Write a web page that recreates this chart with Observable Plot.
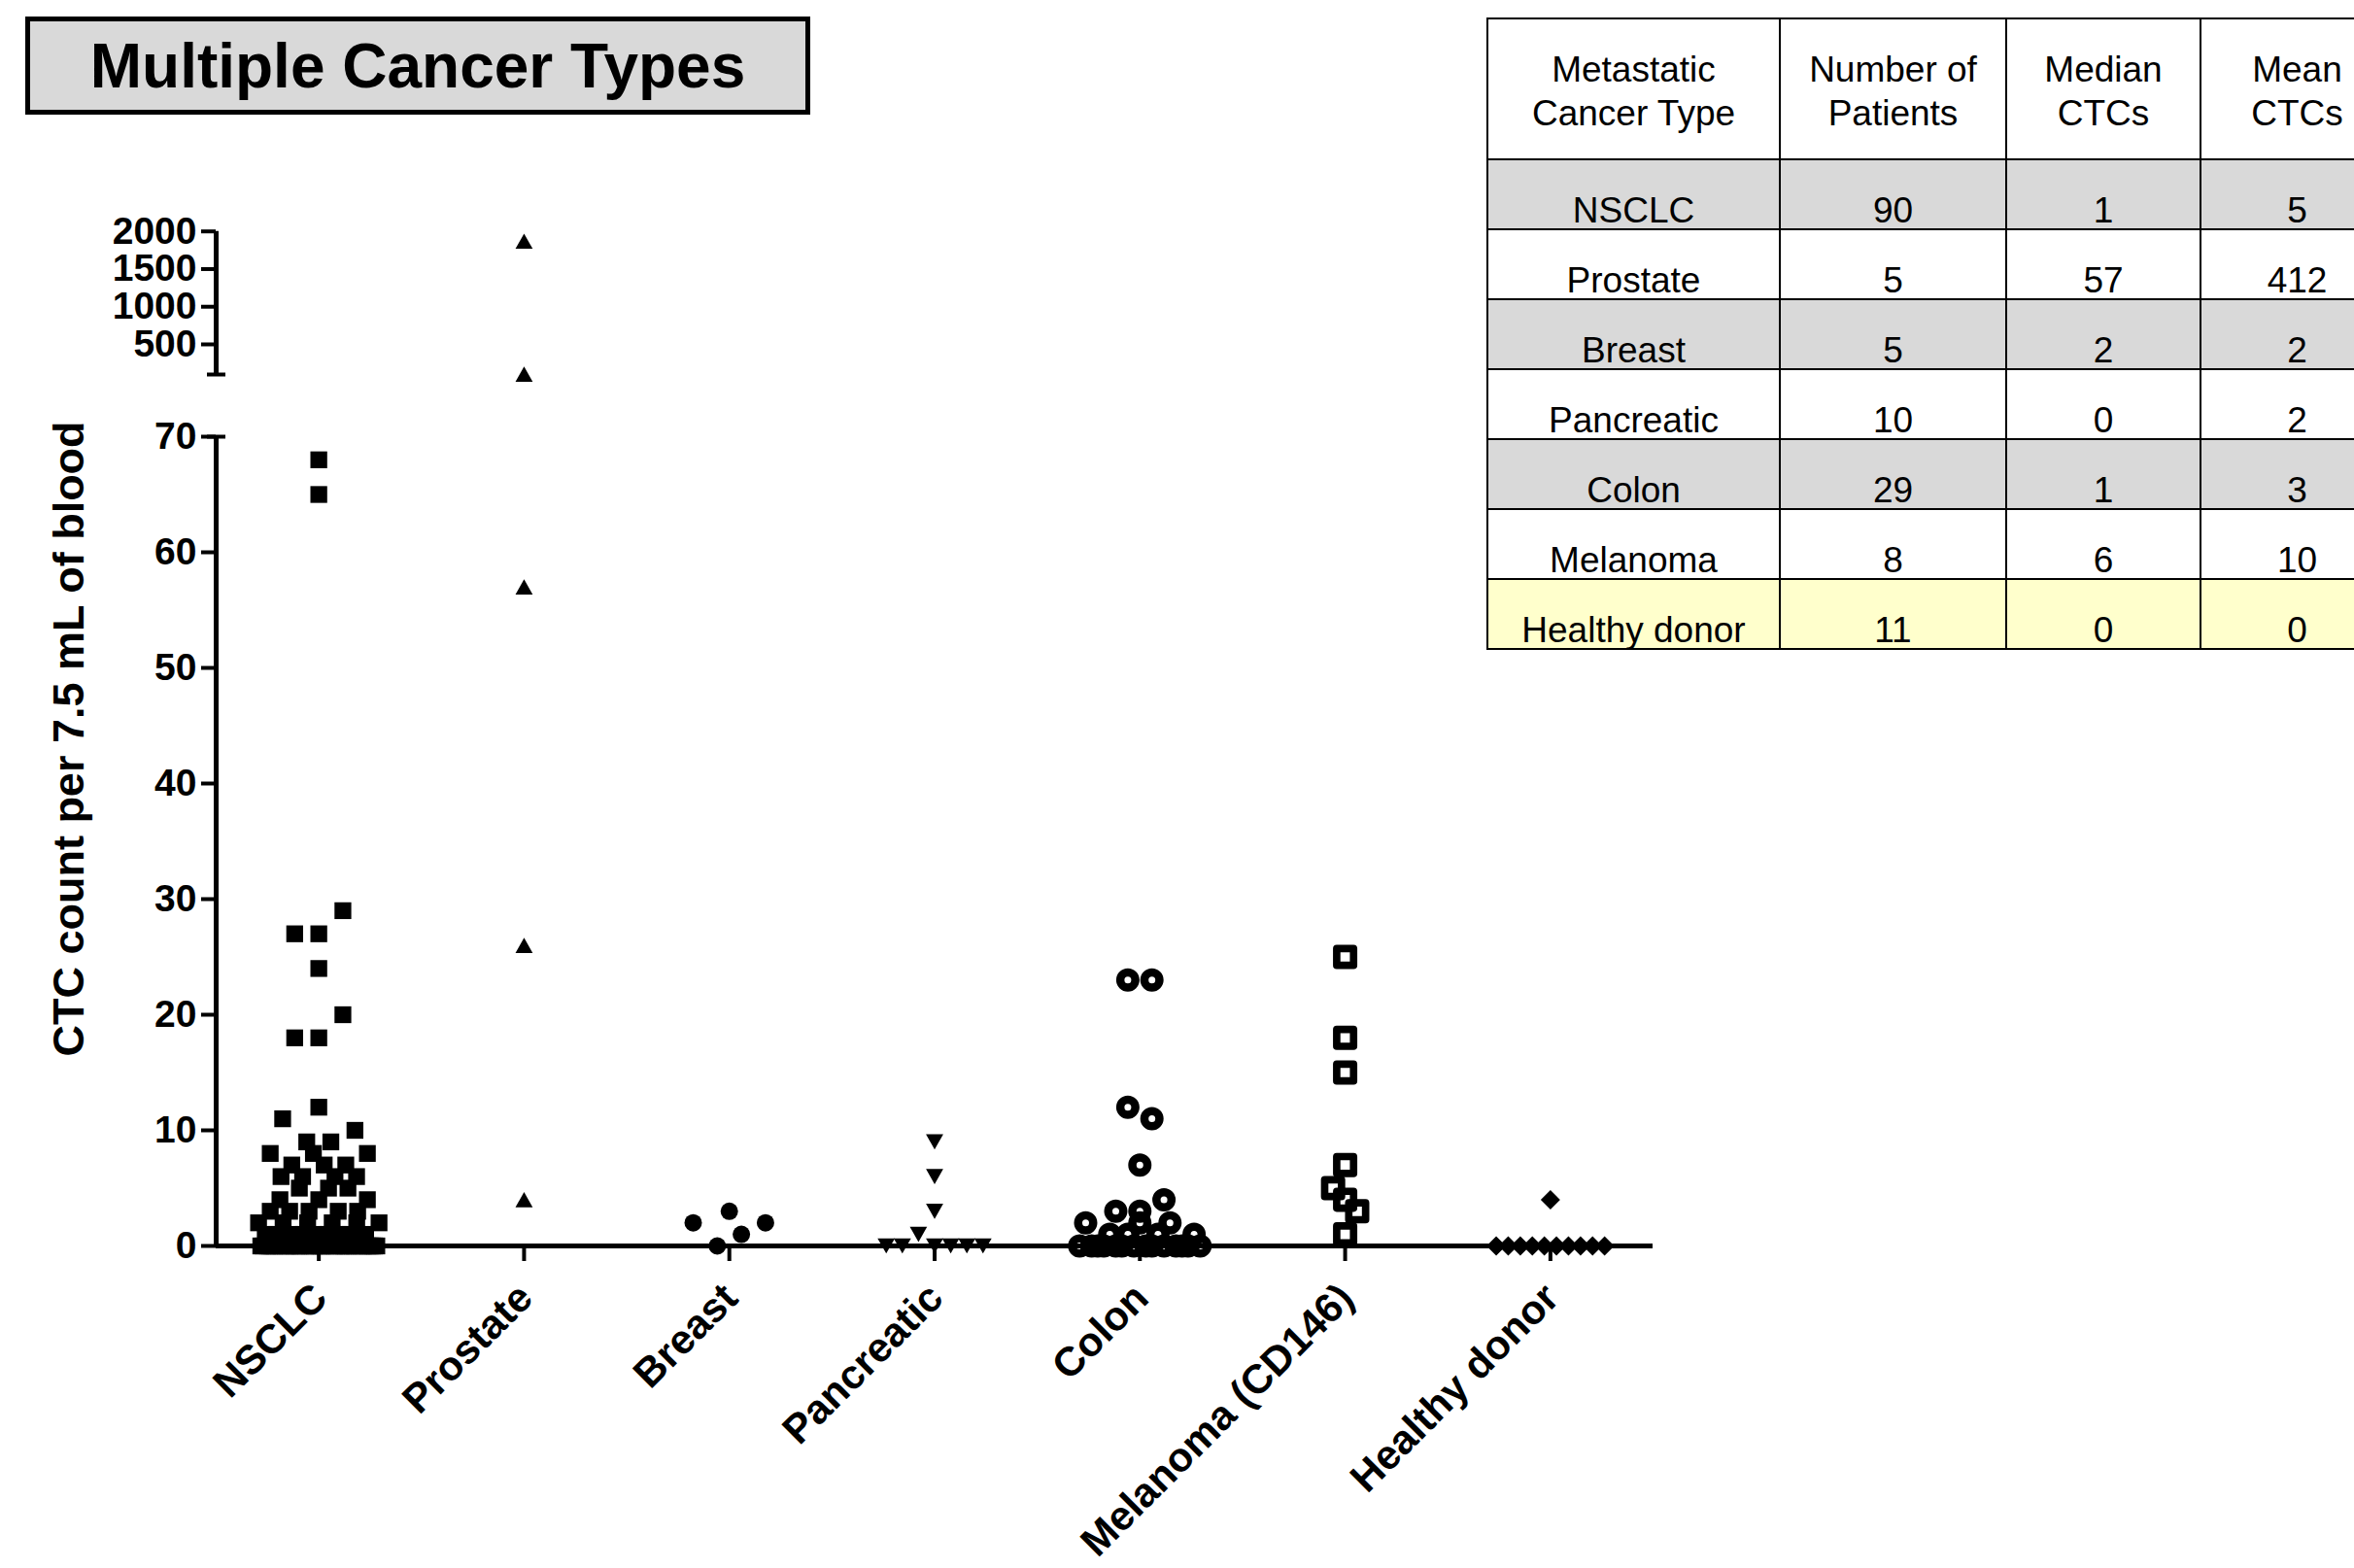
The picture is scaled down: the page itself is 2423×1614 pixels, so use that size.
<!DOCTYPE html>
<html>
<head>
<meta charset="utf-8">
<script src="https://cdn.jsdelivr.net/npm/d3@7"></script>
<script src="https://cdn.jsdelivr.net/npm/@observablehq/plot@0.6"></script>
<style>
  html, body { margin: 0; padding: 0; width: 2423px; height: 1614px; overflow: hidden; background: #fff;
    font-family: "Liberation Sans", Arial, Helvetica, sans-serif; color: #000; }
  #chart { position: absolute; left: 0; top: 0; }
  #title { position: absolute; left: 26px; top: 17px; width: 808px; height: 101px; box-sizing: border-box;
    border: 5px solid #000; background: #d9d9d9; display: flex; align-items: center; justify-content: center;
    font-weight: bold; font-size: 64px; white-space: nowrap; }
  #tbl { position: absolute; left: 1530px; top: 18px; border-collapse: collapse; table-layout: fixed; width: 933px; }
  #tbl td { border: 2.5px solid #000; text-align: center; font-size: 37px; padding: 0; white-space: nowrap; overflow: hidden; }
  #tbl tr.head td { height: 145px; vertical-align: middle; line-height: 45px; padding-top: 5px; box-sizing: border-box; }
  #tbl tr.row td { height: 70px; vertical-align: bottom; line-height: 37px; }
</style>
</head>
<body>
<div id="chart"></div>
<div id="title"></div>
<table id="tbl"></table>
<script>
// ---------------- data ----------------
const titleText = "Multiple Cancer Types";
const yLabel = "CTC count per 7.5 mL of blood";
const categories = ["NSCLC", "Prostate", "Breast", "Pancreatic", "Colon", "Melanoma (CD146)", "Healthy donor"];

const nsclc = [68, 65, 27, 27, 29, 24, 18, 18, 20, 12, 11, 9, 9, 10,
  8, 6, 7, 6, 8, 7, 6, 7, 6, 8,
  3, 4, 3, 5, 3, 4, 5, 3, 5, 3, 4,
  2, 0, 0, 1, 0, 0, 0, 0, 1, 0, 0,
  2, 0, 0, 0, 1, 0, 0, 0, 0, 1, 0,
  2, 0, 0, 0, 1, 0, 0, 0, 0, 1, 0,
  2, 0, 0, 1, 0, 0, 0, 0, 1, 0,
  0, 2, 0, 0, 0, 1, 0, 0, 0, 0, 0, 2];
const prostate = [1870, 104, 57, 26, 4];
const breast = [2, 3, 0, 1, 2];
const pancreatic = [9, 6, 3, 0, 0, 1, 0, 0, 0, 0];
const colon = [23, 23, 12, 11, 7, 3, 3, 4,
  0, 2, 0, 0, 0, 1, 0, 0, 1, 0, 2, 0, 0, 1, 0, 2, 0, 0, 0, 1, 0];
const melanoma = [25, 18, 15, 7, 5, 4, 3, 1];
const healthy = [0, 0, 0, 0, 0, 4, 0, 0, 0, 0, 0];

const yTicks = [0, 10, 20, 30, 40, 50, 60, 70, 500, 1000, 1500, 2000];
const ySegments = [[0, 70], [100, 2000]];
const yBreakCaps = [70, 100];

const tableHeader = [["Metastatic", "Cancer Type"], ["Number of", "Patients"], ["Median", "CTCs"], ["Mean", "CTCs"]];
const tableType = ["NSCLC", "Prostate", "Breast", "Pancreatic", "Colon", "Melanoma", "Healthy donor"];
const tablePatients = [90, 5, 5, 10, 29, 8, 11];
const tableMedian = [1, 57, 2, 0, 1, 6, 0];
const tableMean = [5, 412, 2, 2, 3, 10, 0];

// ---------------- layout / style ----------------
const W = 2423, H = 1614;
const M = {top: 238, right: 722, bottom: 332, left: 222};
const yRange = [1282, 449, 385, 237.7];
const pxPerCat = (W - M.left - M.right) / categories.length;
const pxPerUnitLow = (yRange[0] - yRange[1]) / 70;

const triUp = {draw(ctx, size) { const r = Math.sqrt(size / Math.PI), hw = 1.27 * r, hh = 1.12 * r;
  ctx.moveTo(0, -hh); ctx.lineTo(hw, hh); ctx.lineTo(-hw, hh); ctx.closePath(); }};
const triDown = {draw(ctx, size) { const r = Math.sqrt(size / Math.PI), hw = 1.27 * r, hh = 1.12 * r;
  ctx.moveTo(0, hh); ctx.lineTo(hw, -hh); ctx.lineTo(-hw, -hh); ctx.closePath(); }};
const diamond = {draw(ctx, size) { const r = Math.sqrt(size / Math.PI) * 1.11;
  ctx.moveTo(0, -r); ctx.lineTo(r, 0); ctx.lineTo(0, r); ctx.lineTo(-r, 0); ctx.closePath(); }};
const hbar = {draw(ctx, size) { const r = Math.sqrt(size / Math.PI);
  ctx.moveTo(-r, 0); ctx.lineTo(r, 0); }};

const styles = [
  {symbol: "square", r: 9.76, fill: "black", stroke: "none", step: 24.8, size: 17},
  {symbol: triUp, r: 7, fill: "black", stroke: "none", step: 24.8, size: 17},
  {symbol: "circle", r: 9, fill: "black", stroke: "none", step: 24.8, size: 18},
  {symbol: triDown, r: 7, fill: "black", stroke: "none", step: 16.6, size: 17},
  {symbol: "circle", r: 7.75, fill: "none", stroke: "black", strokeWidth: 8.5, step: 24.8, size: 24},
  {symbol: "square", r: 9.79, fill: "none", stroke: "black", strokeWidth: 7.65, strokeLinejoin: "round", step: 12.4, size: 25},
  {symbol: diamond, r: 9, fill: "black", stroke: "none", step: 12.4, size: 20}
];

// column-scatter layout: values grouped in rows of 3 units, spread around the category centre;
// lone points in neighbouring rows that would collide are staggered.
function swarm(values, step, size) {
  const bin = 3;
  const off = new Array(values.length).fill(0);
  const groups = d3.group(values.map((v, i) => ({v, i})), d => Math.floor(d.v / bin));
  for (const [key, items] of groups) {
    const maxHalf = key === 0 ? 62 : 50;
    const n = items.length;
    const s = n > 1 ? Math.min(step, 2 * maxHalf / (n - 1)) : 0;
    items.forEach((d, k) => { off[d.i] = (k - (n - 1) / 2) * s; });
  }
  for (const [key, items] of groups) {
    const below = groups.get(key - 1);
    if (items.length === 1 && below && below.length === 1) {
      const a = items[0], b = below[0];
      if (off[a.i] === 0 && off[b.i] === 0 && Math.abs(a.v - b.v) * pxPerUnitLow < size) {
        off[a.i] = -step / 2; off[b.i] = step / 2;
      }
    }
  }
  return off;
}

const series = [nsclc, prostate, breast, pancreatic, colon, melanoma, healthy];
const pointSets = series.map((vals, ci) => {
  const off = swarm(vals, styles[ci].step, styles[ci].size);
  return vals.map((v, i) => ({cat: categories[ci], v, x: ci + off[i] / pxPerCat}));
});

const dotMarks = pointSets.map((pts, ci) => {
  const {step, size, ...opts} = styles[ci];
  return Plot.dot(pts, {x: "x", y: "v", ...opts});
});

const chart = Plot.plot({
  width: W, height: H,
  marginTop: M.top, marginRight: M.right, marginBottom: M.bottom, marginLeft: M.left,
  style: {fontFamily: "'Liberation Sans', Arial, Helvetica, sans-serif", background: "white", color: "black", overflow: "visible"},
  x: {type: "linear", domain: [-0.5, categories.length - 0.5]},
  y: {type: "linear", domain: [0, 70, 100, 2000], range: yRange},
  marks: [
    Plot.ruleY([0], {x1: -0.5, x2: categories.length - 0.5, stroke: "black", strokeWidth: 5}),
    Plot.ruleX(ySegments, {x: () => -0.5, y1: d => d[0], y2: d => d[1], stroke: "black", strokeWidth: 5}),
    Plot.dot(yBreakCaps, {x: () => -0.5, y: d => d, symbol: hbar, r: 9.5, fill: "none", stroke: "black", strokeWidth: 4}),
    Plot.axisY({ticks: yTicks, tickFormat: d => String(d), tickSize: 15, tickPadding: 5, strokeWidth: 4,
      fontSize: 39, fontWeight: "bold", anchor: "left", label: null}),
    Plot.axisX({ticks: d3.range(categories.length), tickFormat: () => "", tickSize: 16, strokeWidth: 4,
      anchor: "bottom", label: null}),
    Plot.text(categories, {x: (d, i) => i, y: () => 0, text: d => d, rotate: -45, textAnchor: "end",
      lineAnchor: "bottom", dx: 11, dy: 56, fontSize: 42, fontWeight: "bold"}),
    Plot.text([yLabel], {frameAnchor: "left", text: d => d, rotate: -90, dx: -151, textAnchor: "middle",
      lineAnchor: "middle", fontSize: 45, fontWeight: "bold"}),
    ...dotMarks
  ]
});
document.getElementById("chart").appendChild(chart);

// ---------------- title & table ----------------
document.getElementById("title").textContent = titleText;

const tbl = document.getElementById("tbl");
const colWidths = [301, 233, 200, 199];
const cg = document.createElement("colgroup");
colWidths.forEach(w => { const c = document.createElement("col"); c.style.width = w + "px"; cg.appendChild(c); });
tbl.appendChild(cg);
const hr = document.createElement("tr"); hr.className = "head";
tableHeader.forEach(lines => {
  const td = document.createElement("td");
  lines.forEach((l, k) => { if (k) td.appendChild(document.createElement("br")); td.appendChild(document.createTextNode(l)); });
  hr.appendChild(td);
});
tbl.appendChild(hr);
const rowFill = i => i === tableType.length - 1 ? "#ffffcc" : (i % 2 === 0 ? "#d9d9d9" : "#ffffff");
tableType.forEach((t, i) => {
  const tr = document.createElement("tr"); tr.className = "row"; tr.style.background = rowFill(i);
  [t, tablePatients[i], tableMedian[i], tableMean[i]].forEach(v => {
    const td = document.createElement("td"); td.textContent = String(v); tr.appendChild(td);
  });
  tbl.appendChild(tr);
});
</script>
</body>
</html>
